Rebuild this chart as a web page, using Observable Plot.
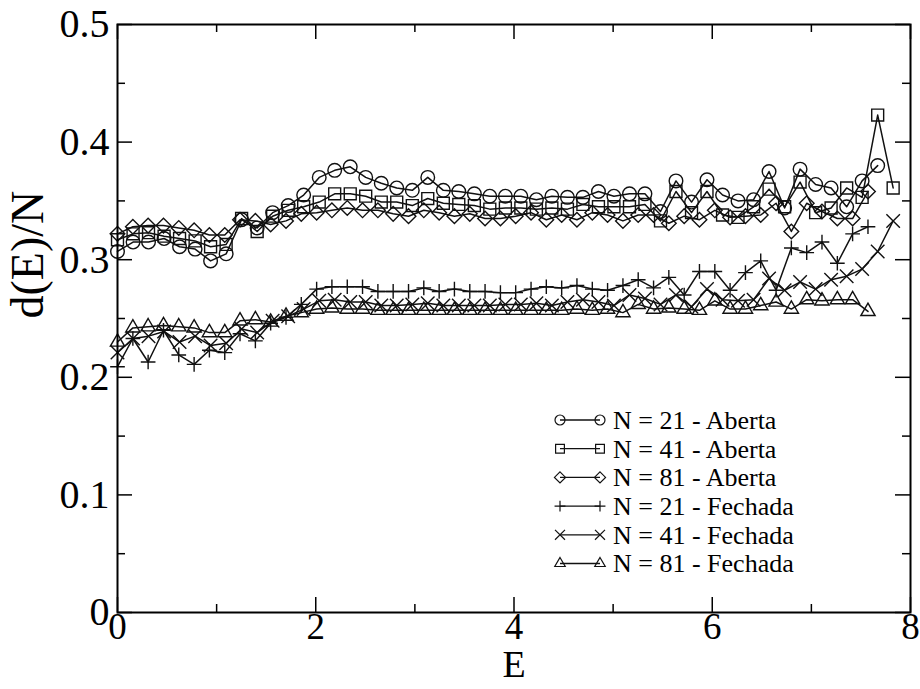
<!DOCTYPE html>
<html><head><meta charset="utf-8">
<script src="https://cdn.jsdelivr.net/npm/d3@7"></script>
<script src="https://cdn.jsdelivr.net/npm/@observablehq/plot@0.6"></script>
<style>body{margin:0;background:#fff} svg text{font-family:"Liberation Serif","Tinos","DejaVu Serif","Noto Serif",serif}</style>
</head><body><div id="chart"></div>
<script>
// Energy grids
const E_A = [0, 0.157, 0.313, 0.47, 0.626, 0.783, 0.939, 1.096, 1.252, 1.409, 1.565, 1.722, 1.878, 2.035, 2.191, 2.348, 2.504, 2.661, 2.817, 2.974, 3.13, 3.287, 3.443, 3.6, 3.756, 3.913, 4.069, 4.226, 4.382, 4.539, 4.695, 4.852, 5.008, 5.165, 5.321, 5.478, 5.634, 5.791, 5.947, 6.104, 6.26, 6.417, 6.573, 6.73, 6.886, 7.043, 7.199, 7.356, 7.512, 7.669, 7.825];
const E_B = [0, 0.155, 0.309, 0.464, 0.618, 0.773, 0.927, 1.082, 1.236, 1.391, 1.545, 1.7, 1.854, 2.009, 2.163, 2.318, 2.472, 2.627, 2.781, 2.936, 3.09, 3.245, 3.399, 3.554, 3.708, 3.863, 4.017, 4.172, 4.326, 4.481, 4.635, 4.79, 4.944, 5.099, 5.253, 5.408, 5.562, 5.717, 5.871, 6.026, 6.18, 6.335, 6.489, 6.644, 6.798, 6.953, 7.107, 7.262, 7.416, 7.571];

const aberta21 = [0.307, 0.315, 0.315, 0.318, 0.311, 0.309, 0.299, 0.305, 0.334, 0.327,
  0.340, 0.346, 0.355, 0.370, 0.376, 0.379, 0.370, 0.365, 0.361, 0.359,
  0.370, 0.359, 0.358, 0.356, 0.354, 0.354, 0.354, 0.351, 0.354, 0.353,
  0.353, 0.358, 0.354, 0.356, 0.356, 0.341, 0.367, 0.349, 0.368, 0.355,
  0.350, 0.351, 0.375, 0.344, 0.377, 0.364, 0.361, 0.345, 0.367, 0.380];
const aberta41 = [0.317, 0.322, 0.323, 0.320, 0.318, 0.316, 0.311, 0.313, 0.335, 0.324,
  0.337, 0.342, 0.345, 0.349, 0.356, 0.356, 0.354, 0.349, 0.349, 0.346,
  0.352, 0.348, 0.347, 0.346, 0.343, 0.344, 0.344, 0.343, 0.344, 0.343,
  0.347, 0.345, 0.345, 0.345, 0.347, 0.333, 0.358, 0.340, 0.358, 0.338,
  0.336, 0.345, 0.360, 0.345, 0.366, 0.340, 0.344, 0.361, 0.353, 0.423,
  0.361];
const aberta81 = [0.322, 0.328, 0.329, 0.329, 0.327, 0.325, 0.321, 0.321, 0.334, 0.333,
  0.330, 0.333, 0.339, 0.340, 0.342, 0.344, 0.342, 0.342, 0.339, 0.337,
  0.342, 0.340, 0.337, 0.339, 0.335, 0.335, 0.337, 0.340, 0.334, 0.338,
  0.334, 0.340, 0.338, 0.333, 0.338, 0.338, 0.331, 0.337, 0.334, 0.342,
  0.336, 0.337, 0.338, 0.348, 0.324, 0.348, 0.341, 0.335, 0.335, 0.358];
const fechada21 = [0.209, 0.233, 0.213, 0.240, 0.219, 0.211, 0.223, 0.221, 0.237, 0.231,
  0.246, 0.251, 0.262, 0.275, 0.277, 0.277, 0.277, 0.273, 0.273, 0.273,
  0.276, 0.273, 0.275, 0.273, 0.273, 0.272, 0.272, 0.275, 0.277, 0.276,
  0.278, 0.275, 0.274, 0.278, 0.283, 0.276, 0.285, 0.270, 0.290, 0.290,
  0.274, 0.289, 0.299, 0.274, 0.310, 0.306, 0.315, 0.297, 0.322, 0.328];
const fechada41 = [0.221, 0.233, 0.235, 0.239, 0.230, 0.235, 0.227, 0.229, 0.241, 0.238,
  0.248, 0.252, 0.258, 0.265, 0.266, 0.264, 0.264, 0.261, 0.261, 0.262,
  0.263, 0.261, 0.261, 0.261, 0.261, 0.262, 0.262, 0.263, 0.261, 0.264,
  0.266, 0.264, 0.261, 0.270, 0.267, 0.262, 0.270, 0.260, 0.275, 0.266,
  0.265, 0.266, 0.284, 0.274, 0.281, 0.275, 0.283, 0.286, 0.292, 0.307,
  0.333];
const fechada81 = [0.230, 0.242, 0.243, 0.244, 0.243, 0.242, 0.238, 0.238, 0.248, 0.249,
  0.247, 0.252, 0.255, 0.258, 0.259, 0.258, 0.258, 0.257, 0.257, 0.257,
  0.257, 0.257, 0.257, 0.257, 0.257, 0.257, 0.257, 0.257, 0.257, 0.257,
  0.258, 0.257, 0.258, 0.255, 0.262, 0.258, 0.259, 0.258, 0.257, 0.265,
  0.258, 0.258, 0.261, 0.264, 0.258, 0.266, 0.265, 0.266, 0.266, 0.256];

const seriesNames = ["N = 21 - Aberta", "N = 41 - Aberta", "N = 81 - Aberta",
                     "N = 21 - Fechada", "N = 41 - Fechada", "N = 81 - Fechada"];
const xTicks = [0, 2, 4, 6, 8];
const xMinor = [1, 3, 5, 7];
const xTickLabels = ["0", "2", "4", "6", "8"];
const yTicks = [0, 0.1, 0.2, 0.3, 0.4, 0.5];
const yMinor = [0.05, 0.15, 0.25, 0.35, 0.45];
const yTickLabels = ["0", "0.1", "0.2", "0.3", "0.4", "0.5"];

const series = [
  {name: seriesNames[0], E: E_A, v: aberta21, symbol: "circle", r: 6.8, lr: 5.0},
  {name: seriesNames[1], E: E_A, v: aberta41, symbol: "square2", r: 7.6, lr: 5.6},
  {name: seriesNames[2], E: E_B, v: aberta81, symbol: "diamond2", r: 6.6, lr: 5.0},
  {name: seriesNames[3], E: E_B, v: fechada21, symbol: "plus", r: 4.8, lr: 3.6},
  {name: seriesNames[4], E: E_A, v: fechada41, symbol: "times", r: 6.2, lr: 4.6},
  {name: seriesNames[5], E: E_B, v: fechada81, symbol: "triangle2", r: 6.8, lr: 5.0}
];

const W = 920, H = 689, ML = 117, MR = 10, MT = 24, MB = 77;
const IW = W - ML - MR, IH = H - MT - MB;
const FONT = '"Liberation Serif", "Tinos", "DejaVu Serif", "Noto Serif", serif';

const marks = [];
// tick marks on all four sides, pointing inward
const majorLen = 15, minorLen = 8;
marks.push(Plot.ruleX(xTicks, {x: d => d, insetTop: IH - majorLen, stroke: "#000", strokeWidth: 1.5}));
marks.push(Plot.ruleX(xMinor, {x: d => d, insetTop: IH - minorLen, stroke: "#000", strokeWidth: 1.5}));
marks.push(Plot.ruleX(xTicks, {x: d => d, insetBottom: IH - majorLen, stroke: "#000", strokeWidth: 1.5}));
marks.push(Plot.ruleX(xMinor, {x: d => d, insetBottom: IH - minorLen, stroke: "#000", strokeWidth: 1.5}));
marks.push(Plot.ruleY(yTicks, {y: d => d, insetRight: IW - majorLen, stroke: "#000", strokeWidth: 1.5}));
marks.push(Plot.ruleY(yMinor, {y: d => d, insetRight: IW - minorLen, stroke: "#000", strokeWidth: 1.5}));
marks.push(Plot.ruleY(yTicks, {y: d => d, insetLeft: IW - majorLen, stroke: "#000", strokeWidth: 1.5}));
marks.push(Plot.ruleY(yMinor, {y: d => d, insetLeft: IW - minorLen, stroke: "#000", strokeWidth: 1.5}));

for (const s of series) {
  const data = s.v.map((v, i) => ({E: s.E[i], v, name: s.name}));
  marks.push(Plot.line(data, {x: "E", y: "v", stroke: "#111", strokeWidth: 1.5}));
  marks.push(Plot.dot(data, {x: "E", y: "v", symbol: s.symbol, r: s.r, stroke: "#111", strokeWidth: 1.4, fill: "none"}));
}

marks.push(Plot.frame({stroke: "#000", strokeWidth: 2}));
marks.push(Plot.axisX(xTicks, {tickSize: 0, tickPadding: 0, fontSize: 37, label: null,
  tickFormat: (d) => xTickLabels[xTicks.indexOf(d)]}));
marks.push(Plot.axisY(yTicks, {tickSize: 0, tickPadding: 8, fontSize: 40, label: null,
  tickFormat: (d) => yTickLabels[yTicks.indexOf(d)]}));
marks.push(Plot.text(["E"], {text: d => d, frameAnchor: "bottom", dy: 38, lineAnchor: "top", fontSize: 38}));
marks.push(Plot.text(["d(E)/N"], {text: d => d, frameAnchor: "left", dx: -89, rotate: -90, fontSize: 46}));

const plot = Plot.plot({
  width: W, height: H,
  marginLeft: ML, marginRight: MR, marginTop: MT, marginBottom: MB,
  x: {domain: [0, 8]},
  y: {domain: [0, 0.5]},
  style: {fontFamily: FONT, color: "#000", background: "#fff", overflow: "visible"},
  marks
});

// Legend (inside plot, lower right)
const svg = d3.select(plot);
const symMap = {circle: d3.symbolCircle, square2: d3.symbolSquare2, diamond2: d3.symbolDiamond2,
  plus: d3.symbolPlus, times: d3.symbolTimes, triangle2: d3.symbolTriangle2};
const lg = svg.append("g").attr("class", "legend");
const lx0 = 560, lx1 = 600, ltx = 613, ly0 = 420, ldy = 28.7;
series.forEach((s, i) => {
  const y = ly0 + i * ldy;
  lg.append("line").attr("x1", lx0).attr("x2", lx1).attr("y1", y).attr("y2", y)
    .attr("stroke", "#111").attr("stroke-width", 1.3);
  const path = d3.symbol(symMap[s.symbol], Math.PI * s.lr * s.lr)();
  for (const x of [lx0, lx1]) {
    lg.append("path").attr("d", path).attr("transform", `translate(${x},${y})`)
      .attr("fill", "none").attr("stroke", "#111").attr("stroke-width", 1.2);
  }
  lg.append("text").attr("x", ltx).attr("y", y).attr("dy", "0.34em")
    .attr("text-anchor", "start")
    .attr("font-size", 26).attr("fill", "#000").text(s.name);
});

document.getElementById("chart").appendChild(plot);
</script>
</body></html>
